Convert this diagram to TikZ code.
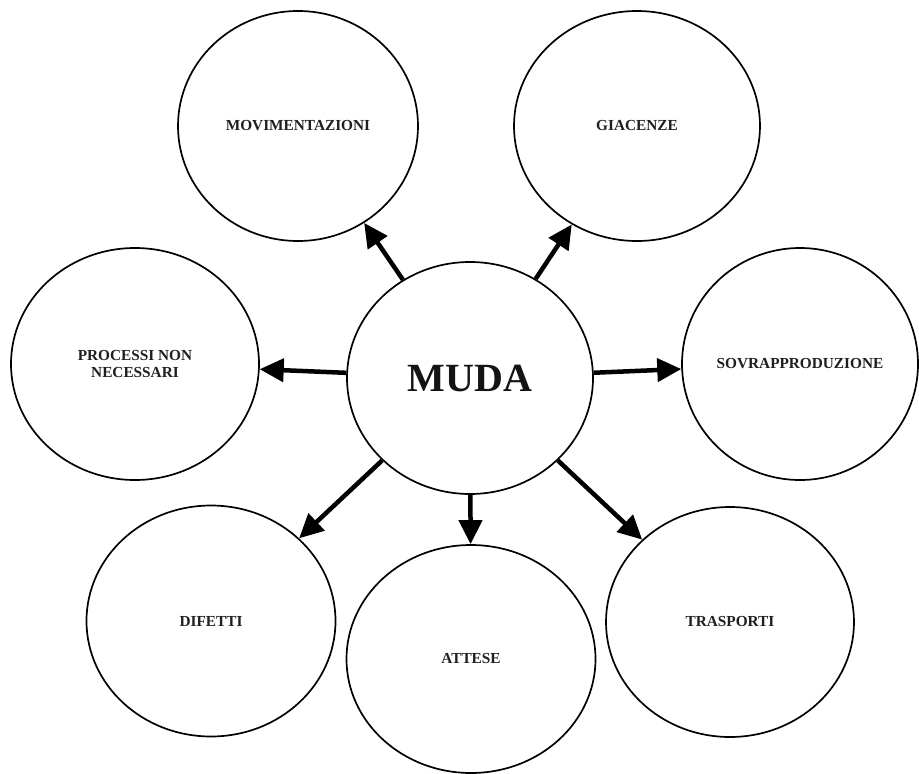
\documentclass[tikz,border=0pt]{standalone}
\usepackage{fontspec}
\setmainfont{Liberation Serif}
\usetikzlibrary{shapes.geometric,arrows.meta}
\begin{document}
\begin{tikzpicture}[x=1pt,y=-1pt,
  waste/.style={ellipse,draw=black,line width=1.7pt,fill=white,inner sep=0pt,
    font=\fontsize{15.3}{17}\selectfont\bfseries,align=center,text=black!88},
  hub/.style={waste,font=\fontsize{40}{44}\selectfont\bfseries,text=black!92},
  link/.style={line width=4.5pt,-{Triangle[length=24pt,width=23pt]}}]
\useasboundingbox (0,0) rectangle (919,774);
\fill[white] (0,0) rectangle (919,774);

% central hub
\node[hub,minimum width=246pt,minimum height=232pt] (muda) at (470,378) {MUDA};

% the seven kinds of waste
\node[waste,minimum width=240pt,minimum height=230pt] (mov) at (298,126) {MOVIMENTAZIONI};
\node[waste,minimum width=246pt,minimum height=230pt] (gia) at (637,126) {GIACENZE};
\node[waste,minimum width=248pt,minimum height=232pt] (pro) at (135,364) {PROCESSI NON\\NECESSARI};
\node[waste,minimum width=236pt,minimum height=232pt] (sov) at (800,364) {SOVRAPPRODUZIONE};
\node[waste,minimum width=249pt,minimum height=231pt] (dif) at (211,621) {DIFETTI};
\node[waste,minimum width=249pt,minimum height=228pt] (att) at (471,659) {ATTESE};
\node[waste,minimum width=248pt,minimum height=230pt] (tra) at (730,622) {TRASPORTI};

% connectors from the hub
\draw[link] (muda) -- (mov);
\draw[link] (muda) -- (gia);
\draw[link] (muda) -- (pro);
\draw[link] (muda) -- (sov);
\draw[link] (muda) -- (dif);
\draw[link] (muda) -- (att);
\draw[link] (muda) -- (tra);
\end{tikzpicture}
\end{document}
